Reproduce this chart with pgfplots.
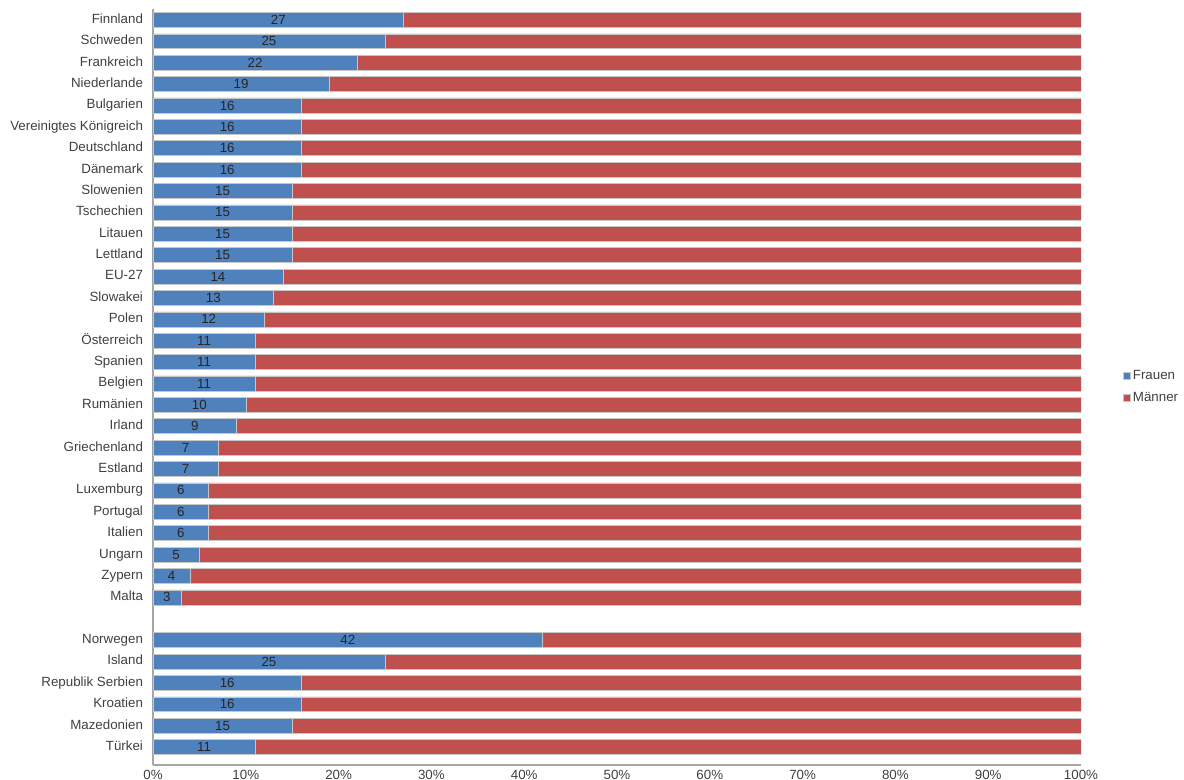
\documentclass[border=0pt]{standalone}
\usepackage{pgfplots}
\pgfplotsset{compat=1.18}
\usepackage{fontspec}
\setmainfont{Liberation Sans}

\definecolor{frauen}{HTML}{4F81BD}
\definecolor{maenner}{HTML}{C0504D}
\definecolor{txt}{HTML}{404040}

\begin{document}
\begin{tikzpicture}
% page = 1184 x 780 px at 0.75pt/px, axis origin at (153,765) px
\useasboundingbox (-114.75pt,-11.25pt) rectangle (773.25pt,573.75pt);
\begin{axis}[
    at={(0,0)}, anchor=south west,
    scale only axis,
    width=696pt, height=567pt,
    xbar stacked,
    bar width=0.7,
    xmin=0, xmax=100,
    ymin=-0.84, ymax=34.51,
    axis x line*=bottom,
    axis y line*=left,
    axis line style={gray!70, line width=0.8pt},
    major tick length=0pt,
    xtick={0,10,...,100},
    xticklabels={0\%,10\%,20\%,30\%,40\%,50\%,60\%,70\%,80\%,90\%,100\%},
    ytick={0,1,2,3,4,5,7,8,9,10,11,12,13,14,15,16,17,18,19,20,21,22,23,24,25,26,27,28,29,30,31,32,33,34},
    yticklabels={Türkei,Mazedonien,Kroatien,Republik Serbien,Island,Norwegen,
        Malta,Zypern,Ungarn,Italien,Portugal,Luxemburg,Estland,Griechenland,
        Irland,Rumänien,Belgien,Spanien,Österreich,Polen,Slowakei,EU-27,
        Lettland,Litauen,Tschechien,Slowenien,Dänemark,Deutschland,
        Vereinigtes Königreich,Bulgarien,Niederlande,Frankreich,Schweden,Finnland},
    tick label style={font=\fontsize{10}{12}\selectfont, text=txt},
    yticklabel style={xshift=-4pt, text height=7.2pt, text depth=2pt},
    legend style={at={(1.045,0.5)}, anchor=west, draw=none,
        font=\fontsize{10}{12}\selectfont, text=txt,
        row sep=4pt, inner sep=0pt},
    legend cell align=left,
    legend image code/.code={\fill[#1] (0pt,-2.5pt) rectangle (5pt,2.5pt);},
]

% Frauen (Anteil in %)
\addplot[fill=frauen, draw=gray!45, line width=0.4pt,
    nodes near coords={\pgfmathprintnumber[assume math mode=true]{\pgfplotspointmeta}},
    every node near coord/.append style={anchor=center,
        font=\fontsize{10}{12}\selectfont, text=black!85},
    point meta=rawx]
coordinates {
    (27,34) (25,33) (22,32) (19,31) (16,30) (16,29) (16,28) (16,27)
    (15,26) (15,25) (15,24) (15,23) (14,22) (13,21) (12,20) (11,19)
    (11,18) (11,17) (10,16) (9,15) (7,14) (7,13) (6,12) (6,11)
    (6,10) (5,9) (4,8) (3,7)
    (42,5) (25,4) (16,3) (16,2) (15,1) (11,0)
};
\addlegendentry{Frauen}

% Maenner (Rest bis 100 %)
\addplot[fill=maenner, draw=gray!45, line width=0.4pt]
coordinates {
    (73,34) (75,33) (78,32) (81,31) (84,30) (84,29) (84,28) (84,27)
    (85,26) (85,25) (85,24) (85,23) (86,22) (87,21) (88,20) (89,19)
    (89,18) (89,17) (90,16) (91,15) (93,14) (93,13) (94,12) (94,11)
    (94,10) (95,9) (96,8) (97,7)
    (58,5) (75,4) (84,3) (84,2) (85,1) (89,0)
};
\addlegendentry{Männer}

\end{axis}
\end{tikzpicture}
\end{document}
